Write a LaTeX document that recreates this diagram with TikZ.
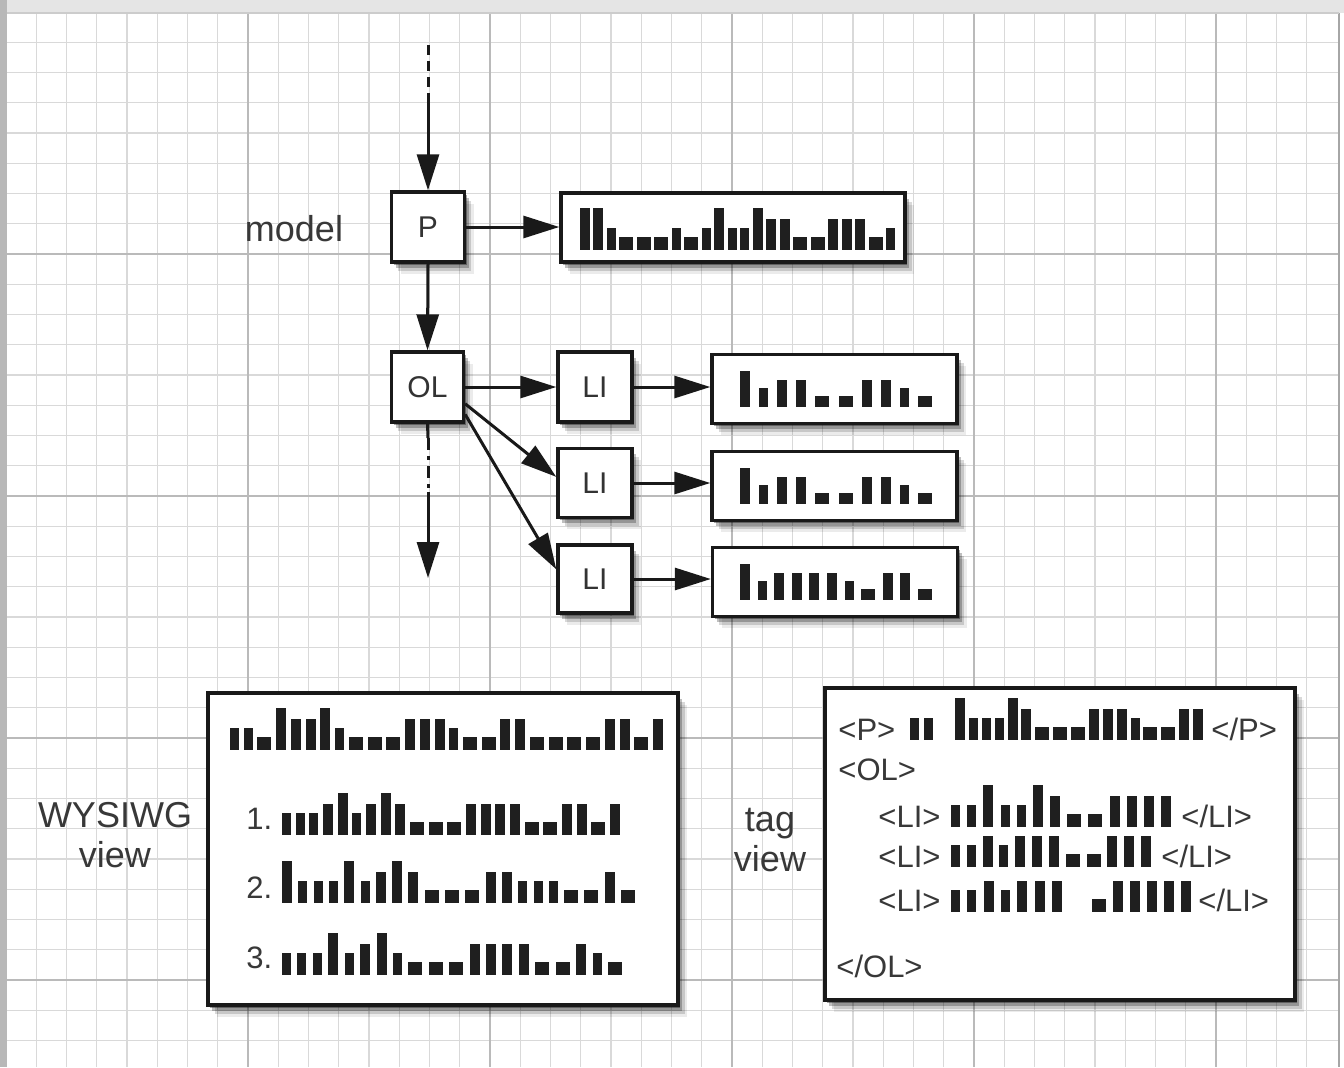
\documentclass[tikz,border=0pt]{standalone}
\usepackage{fontspec}
\setmainfont{Liberation Sans}
\usetikzlibrary{arrows.meta,shadows}
% bar classes: width / height in px
\def\bwt{10}\def\bht{42}
\def\bwm{10}\def\bhm{31}
\def\bws{9}\def\bhs{22}
\def\bwq{14}\def\bhq{13}
\newcommand\bars[5]{%
  \gdef\bSum{0}\gdef\bCnt{0}%
  \foreach \bc in {#5}{%
    \edef\bW{\csname bw\bc\endcsname}%
    \pgfmathsetmacro\bTmp{\bSum+\bW}\global\let\bSum\bTmp
    \pgfmathsetmacro\bTmp{\bCnt+1}\global\let\bCnt\bTmp
  }%
  \pgfmathsetmacro\bGap{(#2-#1-\bSum)/(\bCnt-1)}%
  \gdef\bX{#1}%
  \foreach \bc in {#5}{%
    \edef\bW{\csname bw\bc\endcsname}%
    \edef\bH{\csname bh\bc\endcsname}%
    \fill[black!88] (\bX,#3) rectangle ++(\bW,{-#4*\bH});
    \pgfmathsetmacro\bTmp{\bX+\bW+\bGap}\global\let\bX\bTmp
  }%
}
\begin{document}
\begin{tikzpicture}[x=0.5pt,y=-0.5pt,
  shd/.style={
    drop shadow={shadow xshift=1pt,shadow yshift=-1.3pt,opacity=.35,fill=black},
    drop shadow={shadow xshift=2.2pt,shadow yshift=-2.8pt,opacity=.25,fill=black},
    drop shadow={shadow xshift=3.4pt,shadow yshift=-4.3pt,opacity=.15,fill=black},
    drop shadow={shadow xshift=4.6pt,shadow yshift=-5.8pt,opacity=.08,fill=black}},
  box/.style={draw=black!90,line width=1.7pt,fill=white,inner sep=0pt,shd,
    text=black!80,font=\fontsize{15}{18}\selectfont},
  lab/.style={text=black!78,font=\fontsize{18}{20}\selectfont,inner sep=0pt},
  tag/.style={text=black!78,font=\fontsize{15.5}{18}\selectfont,inner sep=0pt,anchor=base west},
  arr/.style={draw=black!90,line width=1.5pt,-{Triangle[length=18pt,width=11pt]}},
  plain/.style={draw=black!90,line width=1.5pt},
  minor/.style={draw=black!15,line width=0.7pt},
  major/.style={draw=black!27,line width=0.9pt}]
\useasboundingbox (0,0) rectangle (1344,1067);
\fill[white] (0,0) rectangle (1344,1067);
% grid
\foreach \i in {0,...,43} {\pgfmathsetmacro\gx{6+\i*30.25}\draw[minor] (\gx,13) -- (\gx,1067);}
\foreach \j in {0,...,34} {\pgfmathsetmacro\gy{12+\j*30.25}\draw[minor] (7,\gy) -- (1339,\gy);}
\foreach \i in {0,8,...,40} {\pgfmathsetmacro\gx{6+\i*30.25}\draw[major] (\gx,13) -- (\gx,1067);}
\foreach \j in {0,8,...,32} {\pgfmathsetmacro\gy{12+\j*30.25}\draw[major] (7,\gy) -- (1339,\gy);}
\fill[black!10] (0,0) rectangle (1344,13);
\fill[black!28] (0,0) rectangle (7,1067);
\draw[black!35,line width=1pt] (1339,13) -- (1339,1067);
\draw[black!20,line width=0.6pt] (7,13) -- (1339,13);

% nodes
\node[box,minimum width=36.5pt,minimum height=35pt] (P) at (428,227) {P};
\node[box,minimum width=172pt,minimum height=34.5pt] (long) at (733,227.5) {};
\node[box,minimum width=36pt,minimum height=35pt] (OL) at (427.5,387) {OL};
\node[box,minimum width=37pt,minimum height=35pt] (LI1) at (595,387) {LI};
\node[box,minimum width=37pt,minimum height=34.5pt] (LI2) at (595,483) {LI};
\node[box,minimum width=37pt,minimum height=34pt] (LI3) at (595,579) {LI};
\node[box,minimum width=122.5pt,minimum height=34.5pt] (T1) at (834.5,389) {};
\node[box,minimum width=122.5pt,minimum height=34.5pt] (T2) at (834.5,486) {};
\node[box,minimum width=122.5pt,minimum height=34.5pt] (T3) at (835,582) {};
\node[box,minimum width=235pt,minimum height=156pt] (W) at (443,849) {};
\node[box,minimum width=235pt,minimum height=156pt] (G) at (1060,844) {};

% labels
\node[lab] (model) at (294,229) {model};
\node[lab,align=center] (wl) at (115,835) {WYSIWG\\view};
\node[lab,align=center] (tl) at (770,840) {tag\\view};

% connectors
\coordinate (top0) at (428,45);
\coordinate (top1) at (428,97);
\draw[plain,dash pattern=on 5pt off 3pt] (top0) -- (top1);
\draw[arr] (top1) -- (P.north);
\draw[arr] (P.east) -- (P.east -| long.west);
\draw[arr] (P.south) -- (OL.north);
\draw[arr] (OL.east) -- (OL.east -| LI1.west);
\draw[arr] (OL.-24) -- (LI2.171);
\draw[arr] (OL.-36) -- (LI3.166);
\draw[arr] (LI1.east) -- (LI1.east -| T1.west);
\draw[arr] (LI2.east) -- (LI2.east -| T2.west);
\draw[arr] (LI3.east) -- (LI3.east -| T3.west);
\coordinate (b1) at (428,438);
\coordinate (b2) at (428,492);
\coordinate (b3) at (428,578);
\draw[plain] (OL.south) -- (b1);
\draw[plain,dash pattern=on 6pt off 3pt on 2pt off 3pt] (b1) -- (b2);
\draw[arr] (b2) -- (b3);

% greeked text
\bars{580}{895}{250}{1}{t,t,s,q,q,q,s,q,s,t,s,s,t,m,m,q,q,m,m,m,q,s}
\bars{740}{932}{407}{0.86}{t,s,m,m,q,q,m,m,s,q}
\bars{740}{932}{504}{0.86}{t,s,m,m,q,q,m,m,s,q}
\bars{740}{932}{600}{0.86}{t,s,m,m,m,m,s,q,m,m,q}

% WYSIWYG view
\bars{230}{663}{750}{1}{s,s,q,t,m,m,t,s,q,q,q,m,m,m,s,q,q,m,m,q,q,q,q,m,m,q,m}
\node[tag] (n1) at (246,829) {1.};
\bars{282}{620}{835}{1}{s,s,s,m,t,s,m,t,m,q,q,q,m,m,m,m,q,q,m,m,q,m}
\node[tag] (n2) at (246,898) {2.};
\bars{282}{635}{903}{1}{t,s,s,s,t,s,m,t,m,q,q,q,m,m,s,s,s,q,q,m,q}
\node[tag] (n3) at (246,968) {3.};
\bars{282}{622}{975}{1}{s,s,s,t,s,m,t,s,q,q,q,m,m,m,m,q,q,m,s,q}

% tag view
\node[tag] (pO) at (838,740) {<P>};
\bars{910}{933}{740}{1}{s,s}
\bars{955}{1203}{740}{1}{t,s,s,s,t,m,q,q,q,m,m,m,s,q,q,m,m}
\node[tag] (pC) at (1211,740) {</P>};
\node[tag] (olO) at (838,780) {<OL>};
\node[tag] (l1O) at (878,827) {<LI>};
\bars{951}{1171}{827}{1}{s,s,t,s,s,t,m,q,q,m,m,m,m}
\node[tag] (l1C) at (1181,827) {</LI>};
\node[tag] (l2O) at (878,867) {<LI>};
\bars{951}{1151}{867}{1}{s,s,m,s,m,m,m,q,q,m,m,m}
\node[tag] (l2C) at (1161,867) {</LI>};
\node[tag] (l3O) at (878,911) {<LI>};
\bars{951}{1062}{912}{1}{s,s,m,s,m,m,m}
\bars{1092}{1191}{912}{1}{q,m,m,m,m,m}
\node[tag] (l3C) at (1198,911) {</LI>};
\node[tag] (olC) at (836,977) {</OL>};
\end{tikzpicture}
\end{document}
